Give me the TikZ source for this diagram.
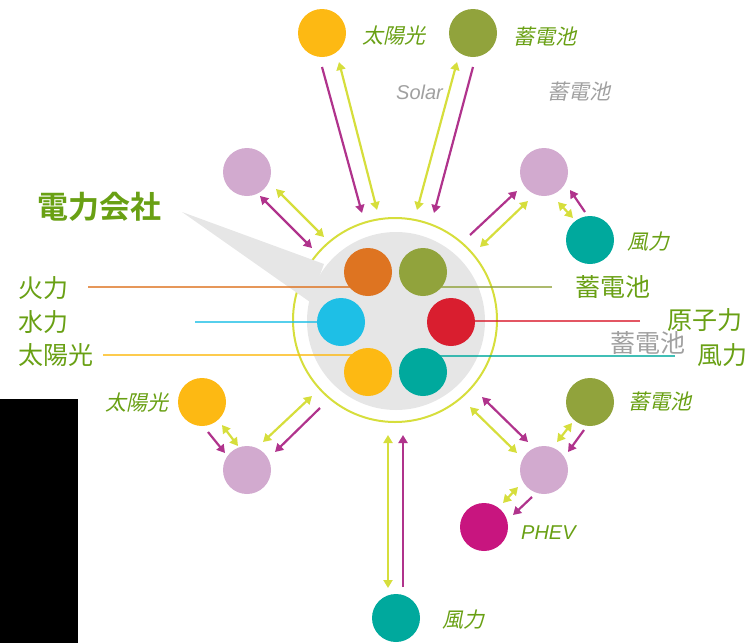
\documentclass[tikz,border=0pt]{standalone}
\usepackage{fontspec}
\setmainfont{Liberation Sans}
\newfontfamily\jp{Noto Sans CJK JP}
\newfontfamily\jpb{Noto Sans CJK JP Bold}
\newfontfamily\jpit[FakeSlant=0.22]{Noto Sans CJK JP}
\usetikzlibrary{arrows.meta}
\definecolor{yg}{HTML}{D6DE3C}
\definecolor{mg}{HTML}{B0338C}
\definecolor{pk}{HTML}{D2AACF}
\definecolor{orn}{HTML}{DE7421}
\definecolor{olv}{HTML}{91A33C}
\definecolor{cya}{HTML}{1EBFE6}
\definecolor{rd}{HTML}{D91E2F}
\definecolor{ylw}{HTML}{FDB913}
\definecolor{tl}{HTML}{00A99D}
\definecolor{phv}{HTML}{C8157F}
\definecolor{grn}{HTML}{69A014}
\definecolor{gry}{HTML}{A0A0A0}
\definecolor{bub}{HTML}{E6E6E6}
\tikzset{
  dot/.style={circle, minimum size=48pt, inner sep=0pt, fill=#1},
  ya/.style={draw=yg, line width=2.2pt, {Triangle[length=8pt,width=9pt]}-{Triangle[length=8pt,width=9pt]}},
  ma/.style={draw=mg, line width=2.2pt, -{Triangle[length=8pt,width=9pt]}},
  mad/.style={draw=mg, line width=2.2pt, {Triangle[length=8pt,width=9pt]}-{Triangle[length=8pt,width=9pt]}},
  lline/.style={draw=#1, line width=1.6pt, opacity=0.75},
  big/.style={inner sep=0pt, anchor=west, text=grn, font=\jp\fontsize{25}{25}\selectfont},
  itl/.style={inner sep=0pt, anchor=west, text=grn, font=\jpit\fontsize{21}{21}\selectfont},
  itlat/.style={inner sep=0pt, anchor=west, text=grn, font=\itshape\fontsize{20}{20}\selectfont},
}
\begin{document}
\begin{tikzpicture}[x=1pt,y=-1pt]
\useasboundingbox (0,0) rectangle (752,643);
% black block
\fill[black] (0,399) rectangle (78,643);
% hub
\fill[bub] (396,321) circle[radius=89];
\draw[yg, line width=2pt] (395,320) circle[radius=102];
\fill[bub] (182,212) -- (324,264) -- (310,302) -- cycle;
\fill[bub] (396,321) circle[radius=86];
% inner circles positions
\coordinate (c-or) at (368,272);
\coordinate (c-ol) at (423,272);
\coordinate (c-bl) at (341,322);
\coordinate (c-rd) at (451,322);
\coordinate (c-yl) at (368,372);
\coordinate (c-tl) at (423,372);
% label line ends
\coordinate (e-or) at (88,287);
\coordinate (e-bl) at (195,322);
\coordinate (e-yl) at (103,355);
\coordinate (e-ol) at (552,287);
\coordinate (e-rd) at (640,321);
\coordinate (e-tl) at (675,356);
\draw[lline=orn] (e-or) -- (c-or |- e-or);
\draw[lline=cya] (e-bl) -- (c-bl |- e-bl);
\draw[lline=ylw] (e-yl) -- (c-yl |- e-yl);
\draw[lline=olv] (e-ol) -- (c-ol |- e-ol);
\draw[lline=rd] (e-rd) -- (c-rd |- e-rd);
\draw[lline=tl] (e-tl) -- (c-tl |- e-tl);
\node[dot=orn] (or) at (c-or) {};
\node[dot=olv] (ol) at (c-ol) {};
\node[dot=cya] (bl) at (c-bl) {};
\node[dot=rd] (rdn) at (c-rd) {};
\node[dot=ylw] (yl) at (c-yl) {};
\node[dot=tl] (tln) at (c-tl) {};
% hub labels
\node[big, font=\jpb\fontsize{31}{31}\selectfont] (co) at (37,207) {電力会社};
\node[big] (l-or) at (18,288) {火力};
\node[big] (l-bl) at (18,322) {水力};
\node[big] (l-yl) at (18,355) {太陽光};
\node[big] (l-ol) at (575,287) {蓄電池};
\node[big] (l-rd) at (667,320) {原子力};
\node[big, text=gry] (l-gr) at (610,343) {蓄電池};
\node[big] (l-tl) at (697,355) {風力};
% outer nodes
\node[dot=ylw] (s1) at (322,33) {};
\node[dot=olv] (b1) at (473,33) {};
\node[dot=pk] (p1) at (247,172) {};
\node[dot=pk] (p2) at (544,172) {};
\node[dot=tl] (w1) at (590,240) {};
\node[dot=ylw] (s2) at (202,402) {};
\node[dot=pk] (p3) at (247,470) {};
\node[dot=tl] (w2) at (396,618) {};
\node[dot=olv] (b2) at (590,402) {};
\node[dot=pk] (p4) at (544,470) {};
\node[dot=phv] (ev) at (484,527) {};
% outer labels
\node[itl] (t-s1) at (362,36) {太陽光};
\node[itl] (t-b1) at (513,37) {蓄電池};
\node[itlat, text=gry] (t-sol) at (396,92) {Solar};
\node[itl, text=gry] (t-gb) at (547,92) {蓄電池};
\node[itl] (t-w1) at (627,242) {風力};
\node[itl] (t-b2) at (628,402) {蓄電池};
\node[itlat] (t-ev) at (521,533) {PHEV};
\node[itl] (t-w2) at (442,620) {風力};
\node[itl] (t-s2) at (105,403) {太陽光};
% arrow end points
\coordinate (s1m0) at (322,67);  \coordinate (s1m1) at (362,213);
\coordinate (s1y0) at (339,62);  \coordinate (s1y1) at (377,210);
\coordinate (b1y0) at (457,62);  \coordinate (b1y1) at (417,210);
\coordinate (b1m0) at (473,67);  \coordinate (b1m1) at (434,213);
\coordinate (p1m0) at (260,196); \coordinate (p1m1) at (312,248);
\coordinate (p1y0) at (276,189); \coordinate (p1y1) at (324,237);
\coordinate (p2m0) at (470,235); \coordinate (p2m1) at (517,191);
\coordinate (p2y0) at (480,247); \coordinate (p2y1) at (528,201);
\coordinate (w1y0) at (573,218); \coordinate (w1y1) at (558,202);
\coordinate (w1m0) at (585,212); \coordinate (w1m1) at (570,190);
\coordinate (s2m0) at (208,432); \coordinate (s2m1) at (225,453);
\coordinate (s2y0) at (222,425); \coordinate (s2y1) at (238,446);
\coordinate (p3y0) at (263,442); \coordinate (p3y1) at (312,396);
\coordinate (p3m0) at (320,408); \coordinate (p3m1) at (275,452);
\coordinate (w2y0) at (388,588); \coordinate (w2y1) at (388,435);
\coordinate (w2m0) at (403,587); \coordinate (w2m1) at (403,435);
\coordinate (p4m0) at (482,397); \coordinate (p4m1) at (528,442);
\coordinate (p4y0) at (470,407); \coordinate (p4y1) at (517,453);
\coordinate (b2y0) at (572,423); \coordinate (b2y1) at (557,442);
\coordinate (b2m0) at (584,430); \coordinate (b2m1) at (568,452);
\coordinate (evy0) at (518,487); \coordinate (evy1) at (503,503);
\coordinate (evm0) at (532,497); \coordinate (evm1) at (513,515);
% arrows
\draw[ma] (s1m0) -- (s1m1);
\draw[ya] (s1y0) -- (s1y1);
\draw[ya] (b1y0) -- (b1y1);
\draw[ma] (b1m0) -- (b1m1);
\draw[mad] (p1m0) -- (p1m1);
\draw[ya] (p1y0) -- (p1y1);
\draw[ma] (p2m0) -- (p2m1);
\draw[ya] (p2y0) -- (p2y1);
\draw[ya] (w1y0) -- (w1y1);
\draw[ma] (w1m0) -- (w1m1);
\draw[ma] (s2m0) -- (s2m1);
\draw[ya] (s2y0) -- (s2y1);
\draw[ya] (p3y0) -- (p3y1);
\draw[ma] (p3m0) -- (p3m1);
\draw[ya] (w2y0) -- (w2y1);
\draw[ma] (w2m0) -- (w2m1);
\draw[mad] (p4m0) -- (p4m1);
\draw[ya] (p4y0) -- (p4y1);
\draw[ya] (b2y0) -- (b2y1);
\draw[ma] (b2m0) -- (b2m1);
\draw[ya] (evy0) -- (evy1);
\draw[ma] (evm0) -- (evm1);
\end{tikzpicture}
\end{document}
